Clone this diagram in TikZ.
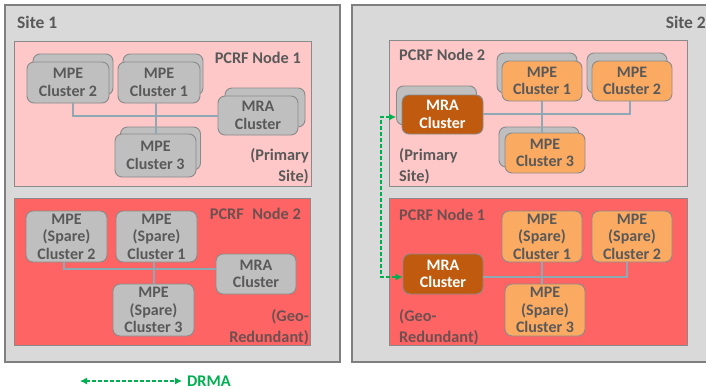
\documentclass[tikz,border=0pt]{standalone}
\usepackage{fontspec}
\setmainfont{Carlito}[BoldFont={Carlito Bold}]
\usetikzlibrary{arrows.meta}
\definecolor{sitefill}{HTML}{D9D9D9}
\definecolor{siteline}{HTML}{7F7F7F}
\definecolor{pinkfill}{HTML}{FFC8C8}
\definecolor{redfill}{HTML}{FF6464}
\definecolor{boxgray}{HTML}{BFBFBF}
\definecolor{boxline}{HTML}{8A8A8A}
\definecolor{orangefill}{HTML}{FBAA62}
\definecolor{darkorange}{HTML}{C05A0E}
\definecolor{txtgray}{HTML}{595959}
\definecolor{txtred}{HTML}{6E5050}
\definecolor{linkcol}{HTML}{8FA9B4}
\definecolor{drmagreen}{HTML}{00B050}
\tikzset{
  sitebox/.style={draw=siteline, line width=1.3pt, fill=sitefill},
  pcrfpink/.style={draw=boxline, line width=0.9pt, fill=pinkfill},
  pcrfred/.style={draw=boxline, line width=0.9pt, fill=redfill},
  clbox/.style={rounded corners=7pt, draw=boxline, line width=0.9pt, inner sep=0pt,
    align=center, font=\fontsize{16}{17.5}\selectfont\bfseries},
  gbox/.style={clbox, fill=boxgray, text=txtgray},
  obox/.style={clbox, fill=orangefill, text=txtgray},
  mbox/.style={clbox, fill=darkorange, text=white},
  backbox/.style={clbox, fill=boxgray},
  lbl/.style={inner sep=0pt, font=\fontsize{16.3}{20.5}\selectfont\bfseries, text=txtgray},
  lblred/.style={lbl, text=txtred},
  link/.style={draw=linkcol, line width=2pt},
  drma/.style={draw=drmagreen, line width=1.1pt, dash pattern=on 3.5pt off 2.5pt,
    {Latex[length=7pt,width=7pt]}-{Latex[length=7pt,width=7pt]}}
}
\begin{document}
\begin{tikzpicture}[x=1pt,y=-1pt]
\useasboundingbox[fill=white] (0,0) rectangle (706,389);
% ---------------- Site 1 ----------------
\path[sitebox] (5,5) rectangle (340,362);
\node[lbl, anchor=west, font=\fontsize{17.5}{20}\selectfont\bfseries] (site1) at (17,22) {Site 1};
\path[pcrfpink] (14,41) rectangle (311,186);
\node[lbl, anchor=east] (s1n1) at (301,58) {PCRF Node 1};
\node[lbl, anchor=east, align=right] (s1prim) at (309,166) {(Primary\\Site)};
% back boxes
\node[backbox, minimum width=80, minimum height=41] (s1c2b) at (73,74.5) {};
\node[backbox, minimum width=80, minimum height=41] (s1c1b) at (163,74.5) {};
\node[backbox, minimum width=80, minimum height=39] (s1mrab) at (265,107.5) {};
\node[backbox, minimum width=80, minimum height=43] (s1c3b) at (160.5,148.5) {};
% front boxes
\node[gbox, minimum width=82, minimum height=41] (s1c2) at (68,82.5) {MPE\\Cluster 2};
\node[gbox, minimum width=82, minimum height=41] (s1c1) at (159,82.5) {MPE\\Cluster 1};
\node[gbox, minimum width=80, minimum height=39] (s1mra) at (258,115.5) {MRA\\Cluster};
\node[gbox, minimum width=81, minimum height=43] (s1c3) at (155.5,155.5) {MPE\\Cluster 3};
\draw[link] ([xshift=5pt]s1c2.south) |- (s1mra.west);
\draw[link] (s1c3.north |- s1c1.south) -- (s1c3.north);
% Node 2 (geo-redundant)
\path[pcrfred] (14,198) rectangle (310,345);
\node[lblred, anchor=east] (s1n2) at (301,214) {PCRF\hspace{0.3em} Node 2};
\node[lblred, anchor=east, align=right] (s1geo) at (309,327) {(Geo-\\Redundant)};
\node[gbox, minimum width=81, minimum height=51] (s1s2) at (66.5,236.5) {MPE\\(Spare)\\Cluster 2};
\node[gbox, minimum width=81, minimum height=51] (s1s1) at (156.5,236.5) {MPE\\(Spare)\\Cluster 1};
\node[gbox, minimum width=80, minimum height=40] (s1mrag) at (256,274) {MRA\\Cluster};
\node[gbox, minimum width=81, minimum height=52] (s1s3) at (153.5,310) {MPE\\(Spare)\\Cluster 3};
\draw[link] ([xshift=-2.5pt]s1s2.south) |- ([yshift=5pt]s1mrag.west);
\draw[link] (s1s3.north |- s1s1.south) -- (s1s3.north);
% ---------------- Site 2 ----------------
\path[sitebox] (352,5) rectangle (710,362);
\node[lbl, anchor=east, font=\fontsize{17.5}{20}\selectfont\bfseries] (site2) at (706,22) {Site 2};
\path[pcrfpink] (389,40) rectangle (687,186);
\node[lbl, anchor=west] (s2n2) at (399,55) {PCRF Node 2};
\node[lbl, anchor=west, align=left] (s2prim) at (399,166) {(Primary\\Site)};
\node[backbox, minimum width=80, minimum height=40] (s2c1b) at (537,73) {};
\node[backbox, minimum width=80, minimum height=40] (s2c2b) at (627,73) {};
\node[backbox, minimum width=80, minimum height=39] (s2mrab) at (436.5,105.5) {};
\node[backbox, minimum width=80, minimum height=40] (s2c3b) at (539,147) {};
\node[obox, minimum width=80, minimum height=40] (s2c1) at (542,81) {MPE\\Cluster 1};
\node[obox, minimum width=80, minimum height=40] (s2c2) at (632,81) {MPE\\Cluster 2};
\node[mbox, minimum width=81, minimum height=39] (s2mra) at (442.5,114.5) {MRA\\Cluster};
\node[obox, minimum width=80, minimum height=40] (s2c3) at (545,153) {MPE\\Cluster 3};
\draw[link] ([yshift=1pt]s2mra.east) -| ([xshift=-2pt]s2c2.south);
\draw[link] (s2c1.south) -- (s2c1.south |- s2c3.north);
% Node 1 (geo-redundant)
\path[pcrfred] (389,198) rectangle (687,345);
\node[lblred, anchor=west] (s2n1) at (399,215) {PCRF Node 1};
\node[lblred, anchor=west, align=left] (s2geo) at (399,327) {(Geo-\\Redundant)};
\node[obox, minimum width=80, minimum height=51] (s2s1) at (542,236.5) {MPE\\(Spare)\\Cluster 1};
\node[obox, minimum width=80, minimum height=51] (s2s2) at (632,236.5) {MPE\\(Spare)\\Cluster 2};
\node[mbox, minimum width=80, minimum height=40] (s2mrag) at (443,274) {MRA\\Cluster};
\draw[link] ([yshift=-3pt]s2mrag.east) -| ([xshift=-5pt]s2s2.south);
\node[obox, minimum width=80, minimum height=52] (s2s3) at (545,310) {MPE\\(Spare)\\Cluster 3};
\draw[link] (s2s1.south) -- (s2s1.south |- s2s3.north);
% ---------------- DRMA link ----------------
\coordinate (g1) at (381,117);
\coordinate (g2) at (381,277);
\draw[drma] (s2mrab.west |- g1) -- (g1) -- (g2) -- ([yshift=-3pt]s2mrag.west);
% legend
\coordinate (la) at (80,381);
\coordinate (lb) at (182,381);
\draw[drma] (la) -- (lb);
\node[lbl, text=drmagreen, anchor=west] (drmalbl) at (187,381) {DRMA};
\end{tikzpicture}
\end{document}
